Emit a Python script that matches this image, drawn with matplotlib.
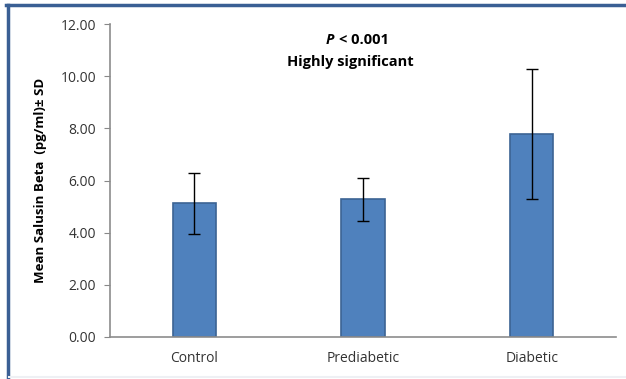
import matplotlib.pyplot as plt
from matplotlib.lines import Line2D

groups = ["Control", "Prediabetic", "Diabetic"]
means = [5.12, 5.28, 7.78]
sds = [1.16, 0.83, 2.48]
yticks = [0, 2, 4, 6, 8, 10, 12]

plt.rcParams["font.family"] = ["Open Sans", "DejaVu Sans"]

fig = plt.figure(figsize=(6.26, 3.79), dpi=100)
ax = fig.add_axes([110 / 626, 1 - 337 / 379, 506 / 626, 313 / 379])

x = range(len(groups))
ax.bar(x, means, width=0.255, color="#4f81bd", edgecolor="#3c6494", linewidth=1.2, zorder=2)
ax.errorbar(x, means, yerr=sds, fmt="none", ecolor="black", elinewidth=1, capsize=4, capthick=1, zorder=3)

ax.set_xlim(-0.5, 2.5)
ax.set_ylim(0, 12)
ax.set_yticks(yticks)
ax.set_yticklabels(["%.2f" % v for v in yticks])
ax.set_xticks(list(x))
ax.set_xticklabels(groups)
ax.tick_params(axis="y", length=4, color="#888888", labelsize=10, labelcolor="#333333", pad=6)
ax.tick_params(axis="x", length=0, labelsize=10, labelcolor="#333333", pad=10)

for side in ["top", "right"]:
    ax.spines[side].set_visible(False)
for side in ["left", "bottom"]:
    ax.spines[side].set_color("#8c8c8c")
    ax.spines[side].set_linewidth(1.2)

ax.set_ylabel("Mean Salusin Beta  (pg/ml)\u00b1 SD", fontsize=9.5, fontweight="bold", labelpad=10)

# "P" in bold italic, the rest bold
ax.text(0.443, 0.95, "P", transform=ax.transAxes, ha="right", va="center",
        fontsize=10.5, fontweight="bold", style="italic")
ax.text(0.452, 0.95, "< 0.001", transform=ax.transAxes, ha="left", va="center",
        fontsize=10.5, fontweight="bold")
ax.text(0.475, 0.88, "Highly significant", transform=ax.transAxes, ha="center", va="center",
        fontsize=10.5, fontweight="bold")

# frame around the picture
fig.add_artist(Line2D([7.5 / 626, 7.5 / 626], [0, 1 - 4.5 / 379], transform=fig.transFigure,
                      color="#3a5f94", linewidth=2.5))
fig.add_artist(Line2D([6 / 626, 1], [1 - 4.5 / 379, 1 - 4.5 / 379], transform=fig.transFigure,
                      color="#3a5f94", linewidth=2.5))
fig.add_artist(Line2D([9 / 626, 1], [2.5 / 379, 2.5 / 379], transform=fig.transFigure,
                      color="#eef0f4", linewidth=1.5))

fig.savefig("out.png", dpi=100)
